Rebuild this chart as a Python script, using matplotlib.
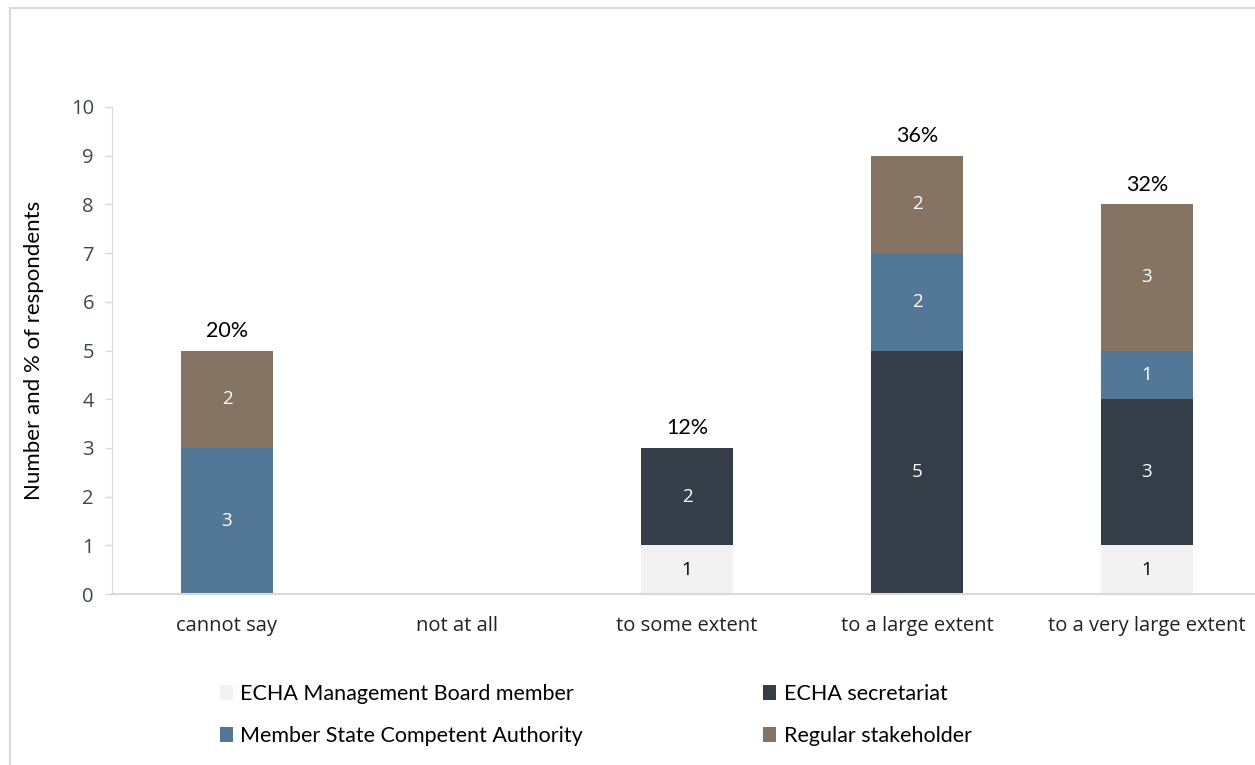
import matplotlib
matplotlib.use("Agg")
import matplotlib.pyplot as plt
from matplotlib.patches import Rectangle
import numpy as np

categories = ["cannot say", "not at all", "to some extent", "to a large extent", "to a very large extent"]
series_names = ["ECHA Management Board member", "ECHA secretariat",
                "Member State Competent Authority", "Regular stakeholder"]
mgmt_board = [0, 0, 1, 0, 1]
secretariat = [0, 0, 2, 5, 3]
msca = [3, 0, 0, 2, 1]
stakeholder = [2, 0, 0, 2, 3]
percent_labels = ["20%", "", "12%", "36%", "32%"]
y_ticks = list(range(0, 11))

colors = ["#F2F2F2", "#343E48", "#537897", "#857364"]
text_colors = ["#000000", "#FFFFFF", "#FFFFFF", "#FFFFFF"]

plt.rcParams['font.family'] = ['Open Sans', 'DejaVu Sans']
calibri_like = ['Lato', 'DejaVu Sans']

fig = plt.figure(figsize=(12.55, 7.65), dpi=100)
# outer border
fig.patches.append(Rectangle((10/1255, -0.05), 1.2, (765-8)/765 + 0.05, transform=fig.transFigure,
                             fill=False, edgecolor="#D9D9D9", linewidth=1.5, zorder=0))

ax = fig.add_axes([112/1255, (765-594)/765, 1150/1255, 487/765])
x = np.arange(len(categories))
width = 0.4
bottom = np.zeros(len(categories))
all_series = [mgmt_board, secretariat, msca, stakeholder]
handles = []
for vals, name, c, tc in zip(all_series, series_names, colors, text_colors):
    vals = np.array(vals, dtype=float)
    bars = ax.bar(x, vals, width, bottom=bottom, color=c, label=name, zorder=2)
    handles.append(bars)
    for xi, v, b in zip(x, vals, bottom):
        if v > 0:
            ax.text(xi, b + v / 2, f"{int(v)}", ha="center", va="center",
                    color=tc, fontsize=13.5, zorder=3)
    bottom = bottom + vals

for xi, tot, lab in zip(x, bottom, percent_labels):
    if lab:
        ax.text(xi, tot + 0.2, lab, ha="center", va="bottom", fontsize=15.5,
                color="#000000", family=calibri_like)

ax.set_xlim(-0.5, 4.5)
ax.set_ylim(0, 10)
ax.set_yticks(y_ticks)
ax.set_xticks(x)
ax.set_xticklabels(categories, fontsize=14.5, color="#222222")
ax.tick_params(axis="y", labelsize=14.5, colors="#404854", length=5, width=1, color="#D9D9D9", pad=8)
ax.tick_params(axis="x", length=0, pad=16)
for s in ["top", "right"]:
    ax.spines[s].set_visible(False)
ax.spines["left"].set_color("#D9D9D9")
ax.spines["bottom"].set_color("#D9D9D9")
ax.spines["bottom"].set_linewidth(1.5)
ax.set_ylabel("Number and % of respondents", fontsize=16, color="#000000", labelpad=19,
              family=calibri_like)

# legend in order: row1 mgmt, secretariat; row2 msca, stakeholder
leg = fig.legend(handles=[handles[0], handles[2], handles[1], handles[3]],
                 labels=[series_names[0], series_names[2], series_names[1], series_names[3]],
                 ncol=2, loc="upper left", bbox_to_anchor=(220/1255, 1 - 684/765),
                 frameon=False, prop={'family': calibri_like, 'size': 15.5},
                 handlelength=0.6, handleheight=0.7,
                 handletextpad=0.35, columnspacing=8.37, labelspacing=1.03,
                 borderaxespad=0, borderpad=0)
for t in leg.get_texts():
    t.set_color("#000000")

fig.savefig("out.png", dpi=100)
